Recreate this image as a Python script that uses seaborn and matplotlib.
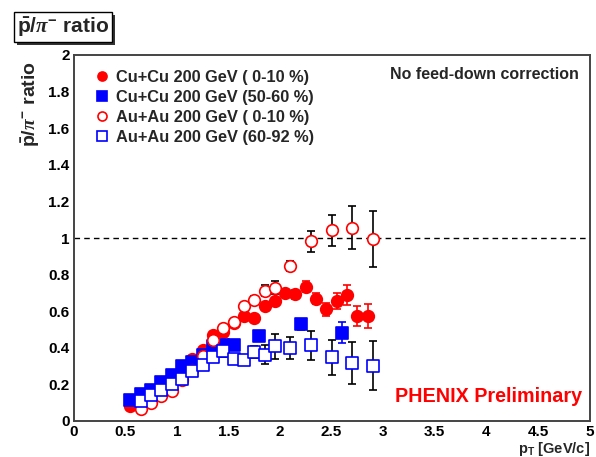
import numpy as np
import pandas as pd
import matplotlib
matplotlib.use("Agg")
import matplotlib.pyplot as plt
from matplotlib.patches import Rectangle
from matplotlib.ticker import MultipleLocator
import seaborn as sns

# ---- data ----
cucu_c_x = [0.55, 0.65, 0.75, 0.85, 0.95, 1.05, 1.15, 1.25, 1.35, 1.45, 1.55, 1.65,
            1.75, 1.85, 1.95, 2.05, 2.15, 2.25, 2.35, 2.45, 2.55, 2.65, 2.75, 2.85]
cucu_c_y = [0.080, 0.106, 0.134, 0.174, 0.213, 0.270, 0.340, 0.390, 0.470, 0.486, 0.535, 0.574,
            0.565, 0.630, 0.657, 0.700, 0.693, 0.733, 0.668, 0.610, 0.655, 0.688, 0.574, 0.574]
cucu_c_e = [0.005, 0.005, 0.005, 0.006, 0.006, 0.007, 0.007, 0.008, 0.008, 0.009, 0.010, 0.012,
            0.012, 0.015, 0.015, 0.020, 0.025, 0.030, 0.030, 0.035, 0.045, 0.055, 0.055, 0.065]

cucu_p_x = [0.55, 0.65, 0.75, 0.85, 0.95, 1.05, 1.15, 1.25, 1.35, 1.45, 1.55, 1.80, 2.20, 2.60]
cucu_p_y = [0.116, 0.145, 0.171, 0.215, 0.253, 0.299, 0.320, 0.363, 0.410, 0.417, 0.418, 0.462, 0.530, 0.483]
cucu_p_e = [0.006, 0.006, 0.006, 0.007, 0.007, 0.008, 0.008, 0.009, 0.010, 0.010, 0.010, 0.015, 0.030, 0.058]

auau_c_x = [0.65, 0.75, 0.85, 0.95, 1.05, 1.15, 1.25, 1.35, 1.45, 1.55, 1.65, 1.75, 1.85, 1.95,
            2.10, 2.30, 2.50, 2.70, 2.90]
auau_c_y = [0.064, 0.100, 0.134, 0.165, 0.226, 0.280, 0.354, 0.440, 0.510, 0.540, 0.629, 0.662, 0.712, 0.728,
            0.847, 0.981, 1.042, 1.057, 0.996]
auau_c_e = [0.004, 0.004, 0.005, 0.005, 0.006, 0.006, 0.007, 0.008, 0.009, 0.010, 0.015, 0.020, 0.030, 0.035,
            0.030, 0.055, 0.083, 0.117, 0.153]

auau_p_x = [0.65, 0.75, 0.85, 0.95, 1.05, 1.15, 1.25, 1.35, 1.45, 1.55, 1.65, 1.75, 1.85, 1.95,
            2.10, 2.30, 2.50, 2.70, 2.90]
auau_p_y = [0.110, 0.140, 0.170, 0.200, 0.230, 0.271, 0.308, 0.350, 0.381, 0.340, 0.333, 0.376, 0.363, 0.409,
            0.400, 0.413, 0.348, 0.318, 0.303]
auau_p_e = [0.005, 0.005, 0.006, 0.006, 0.007, 0.008, 0.009, 0.012, 0.030, 0.028, 0.025, 0.032, 0.052, 0.069,
            0.061, 0.080, 0.094, 0.115, 0.133]

labels = ["Cu+Cu 200 GeV ( 0-10 %)", "Cu+Cu 200 GeV (50-60 %)",
          "Au+Au 200 GeV ( 0-10 %)", "Au+Au 200 GeV (60-92 %)"]
x_ticks = [0, 0.5, 1, 1.5, 2, 2.5, 3, 3.5, 4, 4.5, 5]
x_ticklabels = ["0", "0.5", "1", "1.5", "2", "2.5", "3", "3.5", "4", "4.5", "5"]
y_ticks = [0, 0.2, 0.4, 0.6, 0.8, 1, 1.2, 1.4, 1.6, 1.8, 2]
y_ticklabels = ["0", "0.2", "0.4", "0.6", "0.8", "1", "1.2", "1.4", "1.6", "1.8", "2"]

# ---- style ----
sns.set_style("white")
plt.rcParams['font.family'] = ['Liberation Sans', 'DejaVu Sans']
plt.rcParams['font.weight'] = 'bold'
plt.rcParams['mathtext.fontset'] = 'custom'
plt.rcParams['mathtext.rm'] = 'Liberation Sans:bold'
plt.rcParams['mathtext.bf'] = 'Liberation Sans:bold'
plt.rcParams['mathtext.it'] = 'Liberation Serif:italic'

W, H = 596, 457
fig = plt.figure(figsize=(W / 100, H / 100), dpi=100)
ax = fig.add_axes([73.7 / W, 1 - 421 / H, (589.5 - 73.7) / W, (421 - 55) / H])

series = [
    (cucu_c_x, cucu_c_y, cucu_c_e, labels[0], 'o', '#ff0000', '#ff0000', '#ff0000'),
    (cucu_p_x, cucu_p_y, cucu_p_e, labels[1], 's', '#0000ff', '#0000ff', '#0000ff'),
    (auau_c_x, auau_c_y, auau_c_e, labels[2], 'o', 'white', '#ff0000', 'black'),
    (auau_p_x, auau_p_y, auau_p_e, labels[3], 's', 'white', '#0000ff', 'black'),
]

handles = []
for xs, ys, es, lab, mk, fc, ec, errc in series:
    df = pd.DataFrame({'pt': xs, 'ratio': ys, 'err': es})
    ax.errorbar(df['pt'], df['ratio'], yerr=df['err'], fmt='none', ecolor=errc,
                elinewidth=1.2, capsize=3, capthick=1.2, zorder=2)
    sns.scatterplot(data=df, x='pt', y='ratio', marker=mk, s=70, facecolor=fc,
                    edgecolor=ec, linewidth=1.2, ax=ax, zorder=3)
    handles.append(plt.Line2D([], [], ls='none', marker=mk, markersize=6.5,
                              markerfacecolor=fc, markeredgecolor=ec, markeredgewidth=1.2))

ax.axhline(1.0, color='black', ls=(0, (4, 3)), lw=1.0, zorder=1)

ax.set_xlim(0, 5)
ax.set_ylim(0, 2)
ax.set_xticks(x_ticks)
ax.set_xticklabels(x_ticklabels)
ax.set_yticks(y_ticks)
ax.set_yticklabels(y_ticklabels)
ax.xaxis.set_minor_locator(MultipleLocator(0.1))
ax.yaxis.set_minor_locator(MultipleLocator(0.04))
ax.tick_params(axis='both', which='major', direction='in', length=10, width=1.0,
               labelsize=11, colors='black', top=False, right=False)
ax.tick_params(axis='both', which='minor', direction='in', length=5, width=1.0,
               top=False, right=False)
ax.tick_params(axis='x', pad=3)
ax.tick_params(axis='y', pad=3)
for t in ax.get_xticklabels() + ax.get_yticklabels():
    t.set_fontweight('bold')
for s in ax.spines.values():
    s.set_color('#444444')
    s.set_linewidth(1.4)
ax.set_xlabel('')
ax.set_ylabel('')

leg = ax.legend(handles, labels, loc='upper left', bbox_to_anchor=(0.02, 0.99),
                frameon=False, fontsize=11.8, handlelength=0.8, handletextpad=0.45,
                labelspacing=0.3, borderaxespad=0.3)
for t in leg.get_texts():
    t.set_fontweight('bold')

ax.text(0.98, 0.968, 'No feed-down correction', transform=ax.transAxes,
        ha='right', va='top', fontsize=11.5, fontweight='bold')
ax.text(0.985, 0.068, 'PHENIX Preliminary', transform=ax.transAxes,
        ha='right', va='center', fontsize=14.2, fontweight='bold', color='#ff0000')

# title box with shadow
fig.patches.append(Rectangle((17 / W, 1 - 45 / H), 98 / W, 30 / H, transform=fig.transFigure,
                             facecolor='#333333', edgecolor='none', zorder=1))
fig.patches.append(Rectangle((14 / W, 1 - 42 / H), 98 / W, 30 / H, transform=fig.transFigure,
                             facecolor='white', edgecolor='black', lw=1.0, zorder=2))
fig.text(63 / W, 1 - 27 / H, r'$\bar{\mathrm{p}}/\pi^{-}$ ratio', ha='center', va='center',
         fontsize=15, fontweight='bold', zorder=3)

fig.text(31 / W, 1 - 104 / H, r'$\bar{\mathrm{p}}/\pi^{-}$ ratio', rotation=90,
         ha='center', va='center', fontsize=14, fontweight='bold')
fig.text(590 / W, 1 - 449 / H, r'p$_\mathrm{T}$ [GeV/c]', ha='right', va='center',
         fontsize=10.5, fontweight='bold')

fig.savefig('out.png', dpi=100)
